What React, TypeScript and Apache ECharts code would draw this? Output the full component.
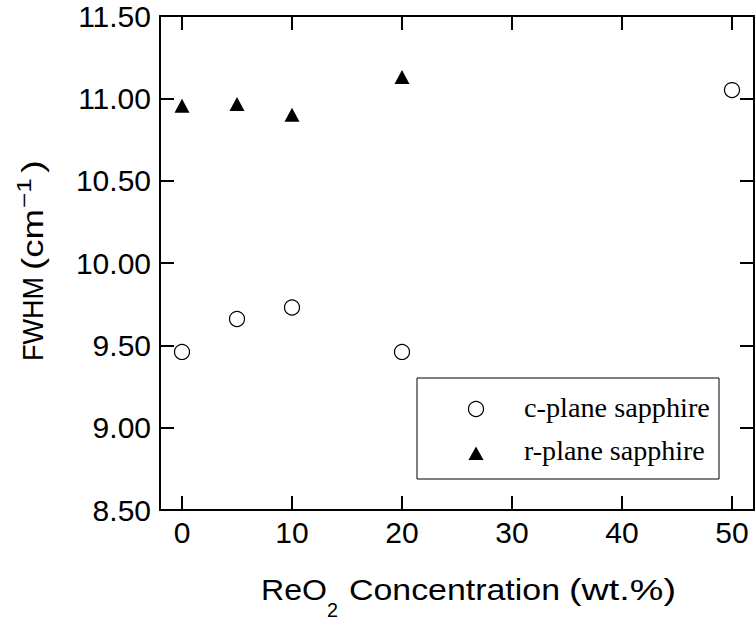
import React, { useEffect, useRef } from "react";
import * as echarts from "echarts";

// ---- data ----
const cPlaneX = [0, 5, 10, 20, 50];
const cPlaneFWHM = [9.46, 9.66, 9.73, 9.46, 11.05];
const rPlaneX = [0, 5, 10, 20];
const rPlaneFWHM = [10.955, 10.965, 10.9, 11.13];
const xTickValues = [0, 10, 20, 30, 40, 50];
const yTickValues = [8.5, 9.0, 9.5, 10.0, 10.5, 11.0, 11.5];
const seriesNames = ["c-plane sapphire", "r-plane sapphire"];

const SANS = "Liberation Sans";
const SERIF = "Liberation Serif";

let measureCtx: CanvasRenderingContext2D | null = null;
function textWidth(text: string, size: number, family: string): number {
  if (!measureCtx) measureCtx = document.createElement("canvas").getContext("2d");
  if (!measureCtx) return text.length * size * 0.55;
  measureCtx.font = `${size}px "${family}"`;
  return measureCtx.measureText(text).width;
}

// A text segment whose left edge starts at `start`, stretched to `len` along its direction,
// with its alphabetic baseline at `baseline` (local coords).
function seg(text: string, size: number, start: number, len: number, baseline: number, family = SANS) {
  const natural = textWidth(text, size, family);
  return {
    type: "text",
    x: start,
    y: baseline - 0.3465 * size,
    scaleX: natural > 0 ? len / natural : 1,
    style: {
      text,
      fontSize: size,
      fontFamily: family,
      fill: "#000",
      align: "left",
      verticalAlign: "middle",
    },
  };
}

export default function App() {
  const ref = useRef<HTMLDivElement>(null);

  useEffect(() => {
    if (!ref.current) return;
    const chart = echarts.init(ref.current, undefined, { renderer: "svg" });

    const axisLine = { show: true, onZero: false, lineStyle: { color: "#000", width: 2 } };
    const axisTickX = {
      show: true,
      inside: true,
      length: 14,
      customValues: xTickValues,
      lineStyle: { color: "#000", width: 2 },
    };
    const axisTickY = {
      show: true,
      inside: true,
      length: 14,
      customValues: yTickValues,
      lineStyle: { color: "#000", width: 2 },
    };
    const labelStyle = { color: "#000", fontSize: 30, fontFamily: SANS };

    const option: any = {
      animation: false,
      backgroundColor: "#fff",
      grid: { left: 160, right: 2, top: 16, bottom: 110, containLabel: false },
      xAxis: [
        {
          type: "value",
          position: "bottom",
          min: -2,
          max: 52,
          axisLine,
          axisTick: axisTickX,
          axisLabel: { ...labelStyle, margin: 7, customValues: xTickValues },
          splitLine: { show: false },
        },
        {
          type: "value",
          position: "top",
          min: -2,
          max: 52,
          axisLine,
          axisTick: axisTickX,
          axisLabel: { show: false },
          splitLine: { show: false },
        },
      ],
      yAxis: [
        {
          type: "value",
          position: "left",
          min: 8.5,
          max: 11.5,
          interval: 0.5,
          axisLine,
          axisTick: axisTickY,
          axisLabel: {
            ...labelStyle,
            margin: 9,
            customValues: yTickValues,
            formatter: (v: number) => v.toFixed(2),
          },
          splitLine: { show: false },
        },
        {
          type: "value",
          position: "right",
          min: 8.5,
          max: 11.5,
          interval: 0.5,
          axisLine,
          axisTick: axisTickY,
          axisLabel: { show: false },
          splitLine: { show: false },
        },
      ],
      series: [
        {
          type: "scatter",
          name: seriesNames[0],
          xAxisIndex: 0,
          yAxisIndex: 0,
          symbol: "circle",
          symbolSize: 15,
          itemStyle: { color: "#fff", borderColor: "#000", borderWidth: 1.2, opacity: 1 },
          data: cPlaneX.map((x, i) => [x, cPlaneFWHM[i]]),
          z: 5,
        },
        {
          type: "scatter",
          name: seriesNames[1],
          xAxisIndex: 0,
          yAxisIndex: 0,
          symbol: "triangle",
          symbolSize: [15, 14],
          itemStyle: { color: "#000", opacity: 1 },
          data: rPlaneX.map((x, i) => [x, rPlaneFWHM[i]]),
          z: 5,
        },
      ],
      graphic: [
        // legend box
        {
          type: "rect",
          shape: { x: 417, y: 378, width: 302, height: 101 },
          style: { fill: "#fff", stroke: "#000", lineWidth: 1 },
          z: 10,
        },
        {
          type: "circle",
          shape: { cx: 476, cy: 409, r: 7.5 },
          style: { fill: "#fff", stroke: "#000", lineWidth: 1.2 },
          z: 11,
        },
        {
          type: "polygon",
          shape: { points: [[468.5, 460], [483.5, 460], [476, 446.5]] },
          style: { fill: "#000" },
          z: 11,
        },
        { ...seg(seriesNames[0], 27, 524, 186, 417, SERIF), z: 11 },
        { ...seg(seriesNames[1], 27, 524, 181, 460, SERIF), z: 11 },
        // x axis title: ReO2 Concentration (wt.%)
        seg("ReO", 30, 261, 66, 600),
        seg("2", 20, 327, 11, 617),
        seg("Concentration", 30, 349, 211, 600),
        seg("(wt.%)", 30, 569, 107, 600),
        // y axis title, rotated: FWHM (cm^-1)
        {
          type: "group",
          x: 0,
          y: 0,
          rotation: Math.PI / 2,
          children: [
            seg("FWHM", 30, -361, 84, 43),
            seg("(cm", 30, -270, 61, 43),
            seg("\u22121", 20, -208, 30, 31),
            seg(")", 30, -173, 13, 43),
          ],
        },
      ],
    };

    chart.setOption(option);
    return () => chart.dispose();
  }, []);

  return (
    <div
      ref={ref}
      style={{ position: "fixed", left: 0, top: 0, width: 756, height: 620, background: "#fff" }}
    />
  );
}
